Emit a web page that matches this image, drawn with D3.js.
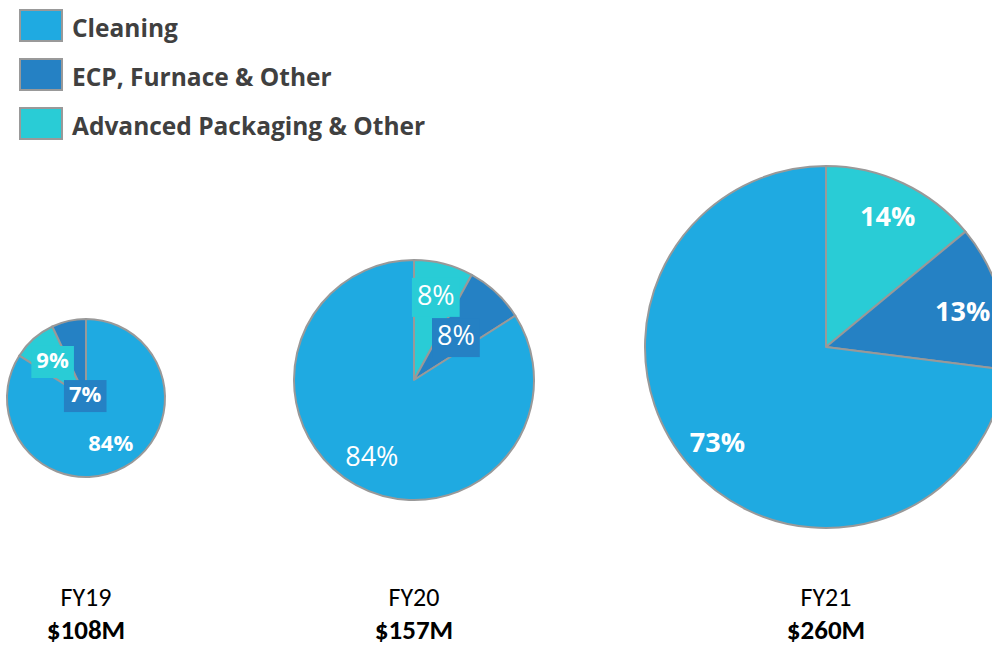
<!DOCTYPE html>
<html>
<head>
<meta charset="utf-8">
<script src="https://cdn.jsdelivr.net/npm/d3@7"></script>
<style>
  body { margin: 0; background: #fff; }
  svg { display: block; }
</style>
</head>
<body>
<div id="chart"></div>
<script>
// data
const categories = ["Cleaning", "ECP, Furnace & Other", "Advanced Packaging & Other"];
const years = ["FY19", "FY20", "FY21"];
const revenue = ["$108M", "$157M", "$260M"];
const cleaning = [84, 84, 73];
const ecp = [7, 8, 13];
const advPack = [9, 8, 14];

const colors = { "Cleaning": "#1FAAE1", "ECP, Furnace & Other": "#2581C4", "Advanced Packaging & Other": "#29CCD6" };

// layout of each pie
const layout = {
  cx: [86, 414, 826],
  cy: [398, 380, 347],
  r: [79, 120, 181],
  cleaningAtTop: [true, false, false],
  labelSize: [22, 27, 27],
  labelWeight: ["bold", "normal", "bold"],
  labelBoxes: [true, true, false],
  // label distance as a fraction of radius: [AP, ECP, Cleaning]
  labelRadius: [[0.64, 0.05, 0.65], [0.73, 0.51, 0.73], [0.8, 0.78, 0.8]]
};

const width = 992, height = 648;
const svg = d3.select("#chart").append("svg")
  .attr("width", width)
  .attr("height", height);

// legend
const legend = svg.append("g").attr("class", "legend");
categories.forEach((c, i) => {
  const g = legend.append("g").attr("transform", `translate(19, ${9 + i * 49})`);
  g.append("rect")
    .attr("x", 1).attr("y", 1)
    .attr("width", 42).attr("height", 31)
    .attr("fill", colors[c])
    .attr("stroke", "#999")
    .attr("stroke-width", 2);
  g.append("text")
    .attr("x", 53).attr("y", 28)
    .attr("font-family", "'Open Sans', sans-serif")
    .attr("font-weight", "bold")
    .attr("font-size", "24.5px")
    .attr("fill", "#404040")
    .text(c);
});

const order = ["Advanced Packaging & Other", "ECP, Furnace & Other", "Cleaning"];

years.forEach((yr, i) => {
  const values = [advPack[i], ecp[i], cleaning[i]];
  const slices = order.map((k, j) => ({ key: k, value: values[j], idx: j }));
  const start = layout.cleaningAtTop[i] ? -2 * Math.PI * (advPack[i] + ecp[i]) / 100 : 0;

  const pie = d3.pie()
    .sort(null)
    .value(d => d.value)
    .startAngle(start)
    .endAngle(start + 2 * Math.PI);

  const r = layout.r[i];
  const arc = d3.arc().innerRadius(0).outerRadius(r);

  const g = svg.append("g")
    .attr("transform", `translate(${layout.cx[i]}, ${layout.cy[i]})`);

  const arcs = pie(slices);

  g.selectAll("path")
    .data(arcs)
    .join("path")
    .attr("d", arc)
    .attr("fill", d => colors[d.data.key])
    .attr("stroke", "#999")
    .attr("stroke-width", 2)
    .attr("stroke-linejoin", "round");

  const labels = g.selectAll("g.lbl")
    .data(arcs)
    .join("g")
    .attr("class", "lbl")
    .attr("transform", d => {
      const a = (d.startAngle + d.endAngle) / 2 + (i === 2 && d.data.idx === 1 ? 0.03 : 0);
      const rr = r * layout.labelRadius[i][d.data.idx];
      return `translate(${Math.sin(a) * rr}, ${-Math.cos(a) * rr})`;
    });

  labels.each(function(d) {
    const lg = d3.select(this);
    const t = lg.append("text")
      .attr("text-anchor", "middle")
      .attr("dy", "0.36em")
      .attr("font-family", "'Open Sans', sans-serif")
      .attr("font-weight", layout.labelWeight[i])
      .attr("font-size", layout.labelSize[i] + "px")
      .attr("fill", "#fff")
      .text(d.data.value + "%");
    if (layout.labelBoxes[i] && d.data.key !== "Cleaning") {
      const bb = t.node().getBBox();
      lg.insert("rect", "text")
        .attr("x", bb.x - 5)
        .attr("y", bb.y + 2)
        .attr("width", bb.width + 10)
        .attr("height", bb.height + 2)
        .attr("fill", colors[d.data.key]);
    }
  });

  // year and revenue under each pie
  svg.append("text")
    .attr("x", layout.cx[i]).attr("y", 606)
    .attr("text-anchor", "middle")
    .attr("font-family", "Carlito, Lato, sans-serif")
    .attr("font-size", "26px")
    .attr("fill", "#000")
    .text(yr);
  svg.append("text")
    .attr("x", layout.cx[i]).attr("y", 639)
    .attr("text-anchor", "middle")
    .attr("font-family", "Carlito, Lato, sans-serif")
    .attr("font-weight", "bold")
    .attr("font-size", "27px")
    .attr("fill", "#000")
    .text(revenue[i]);
});
</script>
</body>
</html>
